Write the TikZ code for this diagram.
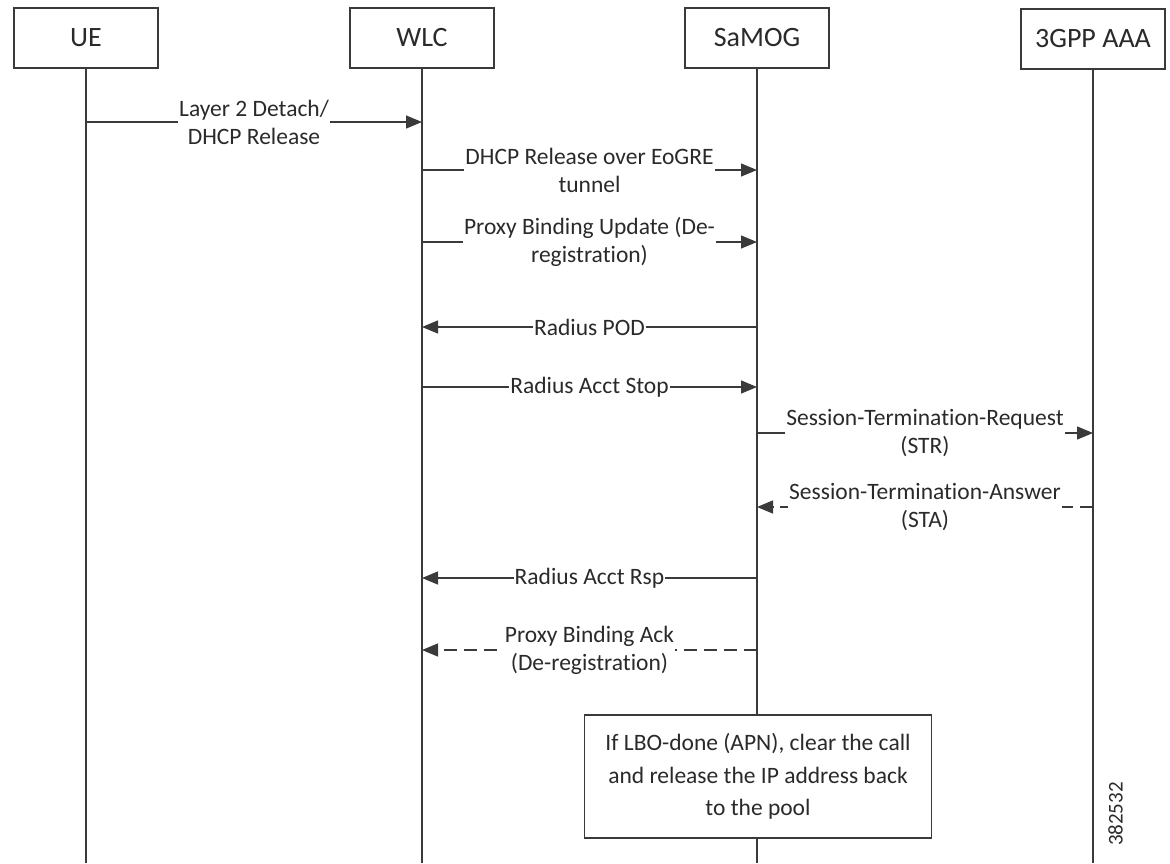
\documentclass[tikz,border=0pt]{standalone}
\usepackage{fontspec}
\setmainfont{Carlito}[Ligatures=NoCommon]
\usetikzlibrary{arrows.meta}
\definecolor{ln}{HTML}{3A3A3A}
\definecolor{tx}{HTML}{2A2A2A}
\tikzset{
  actor/.style={draw=ln, line width=1.4pt, fill=white, minimum width=144pt, minimum height=60pt,
    font=\fontsize{28}{32}\selectfont, text=tx, inner sep=0pt},
  life/.style={draw=ln, line width=1.3pt},
  msg/.style={draw=ln, line width=1.3pt, -{Triangle[length=16pt,width=13pt]}},
  ret/.style={msg, dash pattern=on 13pt off 7pt},
  lbl/.style={fill=white, font=\fontsize{23.5}{28}\selectfont, text=tx, align=center,
    inner xsep=1pt, inner ysep=0pt},
  note/.style={draw=ln, fill=white, line width=1.4pt, minimum width=347pt, minimum height=123pt,
    align=center, font=\fontsize{23.5}{32.5}\selectfont, text=tx, inner sep=0pt},
  figid/.style={rotate=90, font=\fontsize{21}{24}\selectfont, text=tx, inner sep=0pt}
}
\begin{document}
\begin{tikzpicture}[x=1pt,y=-1pt]
\useasboundingbox (0,0) rectangle (1170,863);
% actors
\node[actor] (ue) at (86,38) {UE};
\node[actor] (wlc) at (422,38) {WLC};
\node[actor] (samog) at (757,38) {SaMOG};
\node[actor] (aaa) at (1093,39) {3GPP AAA};
% lifeline ends
\coordinate (ueB) at (86,863);
\coordinate (wlcB) at (422,863);
\coordinate (samogB) at (757,863);
\coordinate (aaaB) at (1093,863);
\draw[life] (ue.south) -- (ueB);
\draw[life] (wlc.south) -- (wlcB);
\draw[life] (samog.south) -- (samogB);
\draw[life] (aaa.south) -- (aaaB);
% message anchor points
\coordinate (ue1) at (86,122);   \coordinate (wlc1) at (422,122);
\coordinate (wlc2) at (422,170); \coordinate (sa2) at (757,170);
\coordinate (wlc3) at (422,242); \coordinate (sa3) at (757,242);
\coordinate (wlc4) at (422,327); \coordinate (sa4) at (757,327);
\coordinate (wlc5) at (422,387); \coordinate (sa5) at (757,387);
\coordinate (sa6) at (757,433);  \coordinate (aaa6) at (1093,433);
\coordinate (sa7) at (757,507);  \coordinate (aaa7) at (1093,507);
\coordinate (wlc8) at (422,578); \coordinate (sa8) at (757,578);
\coordinate (wlc9) at (422,650); \coordinate (sa9) at (757,650);
% messages
\draw[msg] (ue1) -- (wlc1) node[lbl, midway] (l1) {Layer 2 Detach/\\DHCP Release};
\draw[msg] (wlc2) -- (sa2) node[lbl, midway] (l2) {DHCP Release over EoGRE\\tunnel};
\draw[msg] (wlc3) -- (sa3) node[lbl, midway] (l3) {Proxy Binding Update (De-\\registration)};
\draw[msg] (sa4) -- (wlc4) node[lbl, midway] (l4) {Radius POD};
\draw[msg] (wlc5) -- (sa5) node[lbl, midway] (l5) {Radius Acct Stop};
\draw[msg] (sa6) -- (aaa6) node[lbl, midway] (l6) {Session-Termination-Request\\(STR)};
\draw[ret] (aaa7) -- (sa7) node[lbl, midway] (l7) {Session-Termination-Answer\\(STA)};
\draw[msg] (sa8) -- (wlc8) node[lbl, midway] (l8) {Radius Acct Rsp};
\draw[ret] (sa9) -- (wlc9) node[lbl, midway] (l9) {Proxy Binding Ack\\(De-registration)};
% note
\node[note] (lbo) at (758,776.5) {If LBO-done (APN), clear the call\\and release the IP address back\\to the pool};
% figure id
\node[figid] (fig) at (1115.5,814) {382532};
\end{tikzpicture}
\end{document}
